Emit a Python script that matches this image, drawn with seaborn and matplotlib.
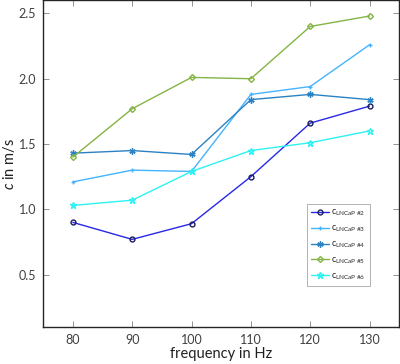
import pandas as pd
import numpy as np
import seaborn as sns
import matplotlib
matplotlib.use('Agg')
import matplotlib.pyplot as plt

# values
freq = [80, 90, 100, 110, 120, 130]
c_2 = [0.90, 0.77, 0.89, 1.25, 1.66, 1.79]
c_3 = [1.21, 1.30, 1.29, 1.88, 1.94, 2.26]
c_4 = [1.43, 1.45, 1.42, 1.84, 1.88, 1.84]
c_5 = [1.40, 1.77, 2.01, 2.00, 2.40, 2.48]
c_6 = [1.03, 1.07, 1.29, 1.45, 1.51, 1.60]
labels = [r'c$_{\mathrm{LNCaP\ \#2}}$', r'c$_{\mathrm{LNCaP\ \#3}}$',
          r'c$_{\mathrm{LNCaP\ \#4}}$', r'c$_{\mathrm{LNCaP\ \#5}}$',
          r'c$_{\mathrm{LNCaP\ \#6}}$']

sns.set_style('white')
plt.rcParams['font.family'] = ['Lato', 'DejaVu Sans']
plt.rcParams['mathtext.fontset'] = 'custom'
plt.rcParams['mathtext.rm'] = 'Lato'
plt.rcParams['mathtext.it'] = 'Lato:italic'

series = [c_2, c_3, c_4, c_5, c_6]
colors = ['#2828e8', '#44b4ff', '#2a82c4', '#84b444', '#2cf2f2']
edges = ['#1a1a60', '#44b4ff', '#2a82c4', '#84b444', '#2cf2f2']
markers = ['o', '+', (6, 2, 0), 'D', '*']
msizes = [3.5, 3.5, 4.5, 3, 4.5]

fig = plt.figure(figsize=(4.0, 3.64), dpi=100)
ax = fig.add_axes([0.108, 0.102, 0.89, 0.897])

for vals, lab, col, ec, mk, ms in zip(series, labels, colors, edges, markers, msizes):
    df = pd.DataFrame({'f': freq, 'c': vals})
    sns.lineplot(data=df, x='f', y='c', ax=ax, color=col, label=lab,
                 marker=mk, markersize=ms, markerfacecolor='none',
                 markeredgecolor=ec, markeredgewidth=1.0, linewidth=1.0)

ax.set_xlim(75, 135)
ax.set_ylim(0.1, 2.6)
ax.set_xticks(freq)
ax.set_yticks([0.5, 1.0, 1.5, 2.0, 2.5])
ax.set_yticklabels(['0.5', '1.0', '1.5', '2.0', '2.5'])
ax.tick_params(direction='in', length=4, width=0.6, colors='#808080',
               labelsize=9, labelcolor='#404040', pad=5,
               bottom=True, left=True, top=True, right=True)
for s in ax.spines.values():
    s.set_color('#262626')
    s.set_linewidth(1.0)
    s.set_visible(True)

ax.set_xlabel('frequency in Hz', fontsize=10.5, color='#202020', va='center')
ax.xaxis.set_label_coords(0.5, -0.083)
ax.set_ylabel('$c$ in m/s', fontsize=10.5, color='#202020', va='center')
ax.yaxis.set_label_coords(-0.095, 0.5)

leg = ax.legend(loc='upper left', bbox_to_anchor=(0.742, 0.377), fontsize=6.5,
                frameon=True, fancybox=False, edgecolor='#909090',
                handlelength=2.0, handletextpad=0.2, labelspacing=0.6,
                borderpad=0.45, borderaxespad=0)
leg.get_frame().set_linewidth(0.6)

fig.savefig('out.png', dpi=100)
